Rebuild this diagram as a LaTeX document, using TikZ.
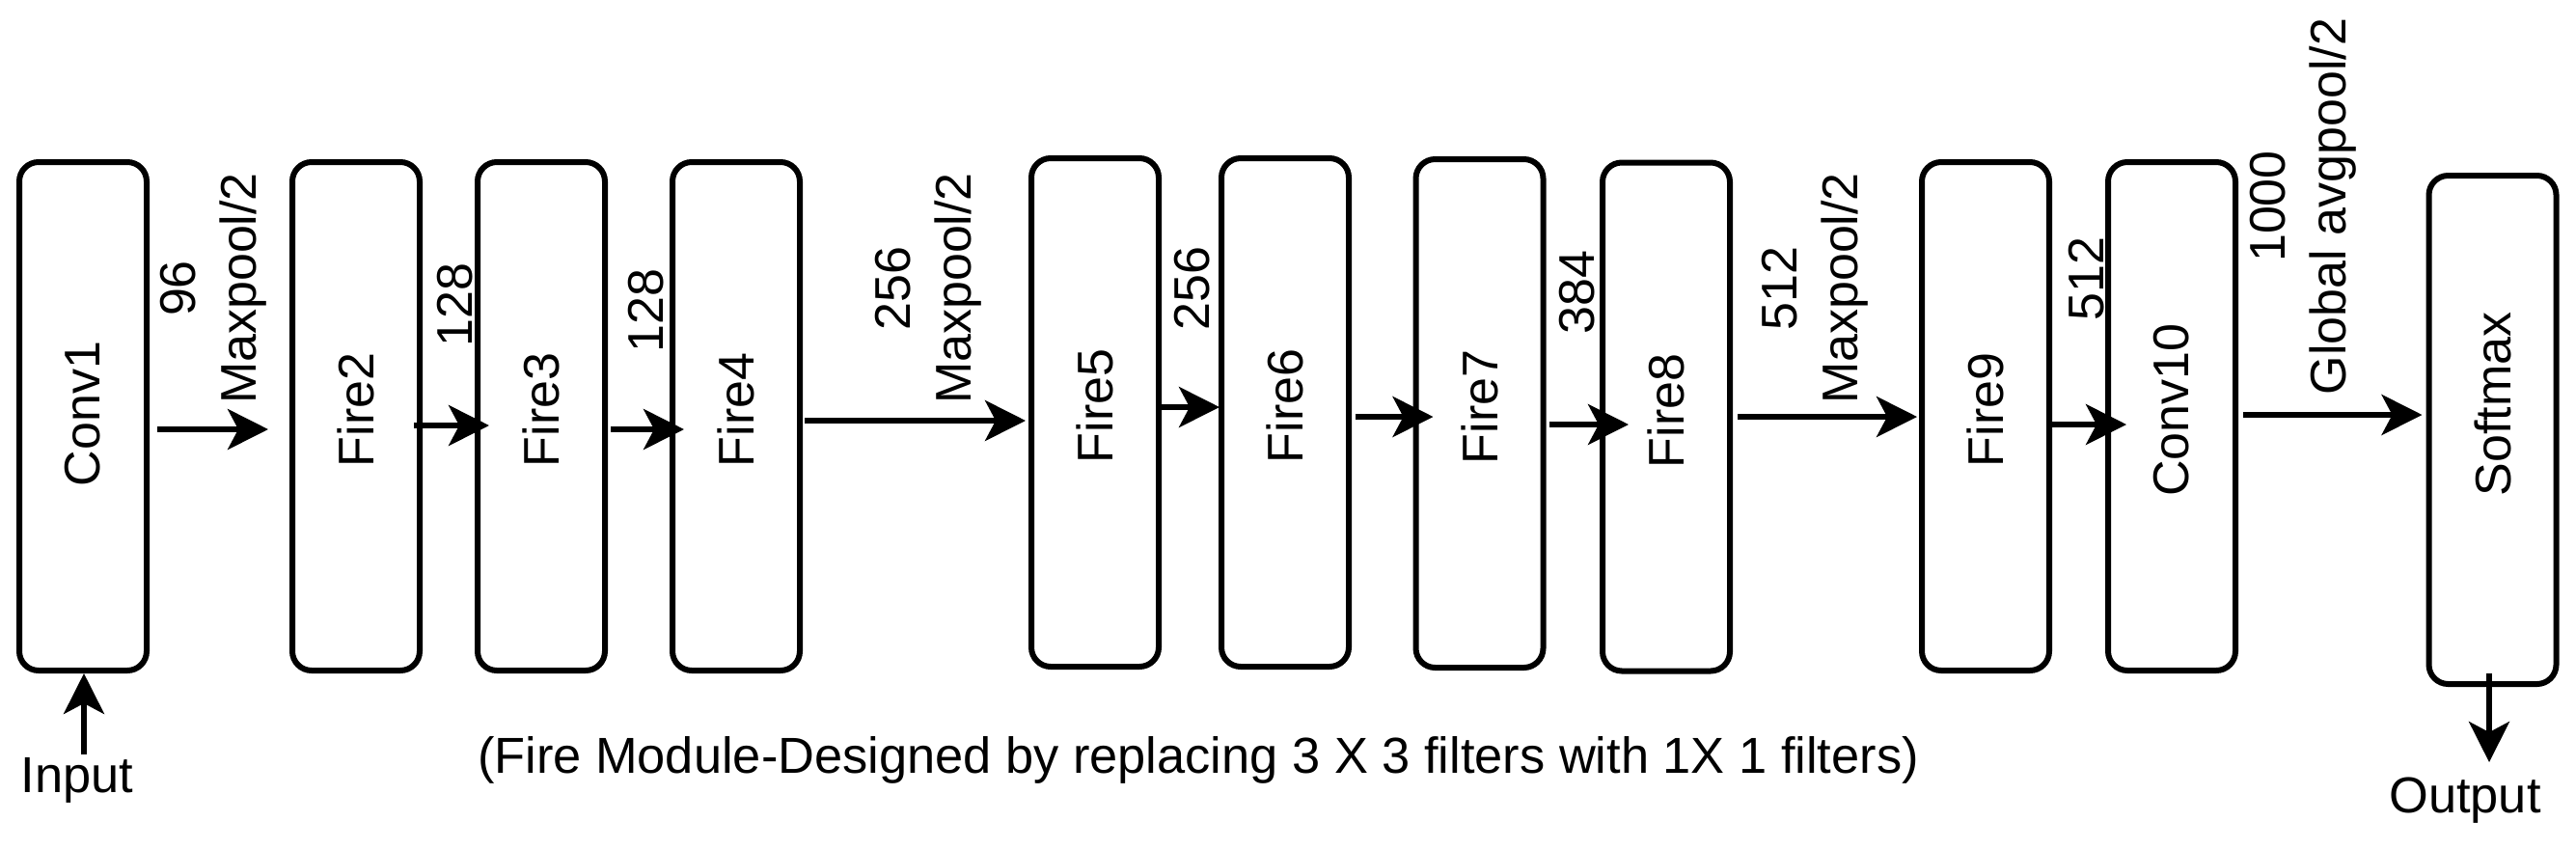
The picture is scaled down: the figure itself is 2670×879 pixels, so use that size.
\documentclass[tikz,border=0pt]{standalone}
\usepackage{fontspec}
\setmainfont{Liberation Sans}
\usetikzlibrary{arrows.meta,calc}
\begin{document}
\begin{tikzpicture}[x=0.5pt,y=-0.5pt,
  box/.style={draw, line width=3pt, rounded corners=10pt, minimum width=66pt, minimum height=263.5pt, inner sep=0pt},
  arr/.style={line width=2.8pt, -{Stealth[length=21pt,width=21pt,inset=5.5pt]}},
  lbl/.style={font=\fontsize{26}{31.5}\selectfont, inner sep=0pt, align=center, rotate=90},
  txt/.style={font=\fontsize{26.2}{31.5}\selectfont, inner sep=0pt}]
\useasboundingbox (0,0) rectangle (2670,879);
% boxes
\node[box] (conv1) at (86,431.5) {};
\node[box] (fire2) at (369,431.5) {};
\node[box] (fire3) at (561,431.5) {};
\node[box] (fire4) at (763,431.5) {};
\node[box] (fire5) at (1135,427.5) {};
\node[box] (fire6) at (1332,427.5) {};
\node[box] (fire7) at (1533.5,428.5) {};
\node[box] (fire8) at (1727,432) {};
\node[box] (fire9) at (2058,431.5) {};
\node[box] (conv10) at (2251,431.5) {};
\node[box] (softmax) at (2583.5,445.5) {};
% box texts
\node[lbl] (tconv1) at (86,429) {Conv1};
\node[lbl] (tfire2) at (369,425) {Fire2};
\node[lbl] (tfire3) at (561,425) {Fire3};
\node[lbl] (tfire4) at (763,425) {Fire4};
\node[lbl] (tfire5) at (1135,421) {Fire5};
\node[lbl] (tfire6) at (1332,421) {Fire6};
\node[lbl] (tfire7) at (1533.5,422) {Fire7};
\node[lbl] (tfire8) at (1727,426) {Fire8};
\node[lbl] (tfire9) at (2058,425) {Fire9};
\node[lbl] (tconv10) at (2251,425) {Conv10};
\node[lbl] (tsoftmax) at (2583.5,419) {Softmax};
% connector labels
\node[lbl] (l1) at (221,299) {96\\Maxpool/2};
\node[lbl] (l2) at (472,316) {128};
\node[lbl] (l3) at (670,322) {128};
\node[lbl] (l4) at (962,299) {256\\Maxpool/2};
\node[lbl] (l5) at (1236,299) {256};
\node[lbl] (l6) at (1635,303) {384};
\node[lbl] (l7) at (1881.5,299) {512\\Maxpool/2};
\node[lbl] (l8) at (2163,289) {512};
\node[lbl] (l9) at (2387,214) {1000\\Global avgpool/2};
% connectors
\draw[arr] ($(conv1.east|-0,445)+(8,0)$) -- ($(fire2.west|-0,445)+(-22,0)$);
\draw[arr] ($(fire2.east|-0,441)+(-9,0)$) -- ($(fire3.west|-0,441)+(15,0)$);
\draw[arr] ($(fire3.east|-0,445)+(3,0)$) -- ($(fire4.west|-0,445)+(15,0)$);
\draw[arr] ($(fire4.east|-0,436)+(2,0)$) -- ($(fire5.west|-0,436)+(-3,0)$);
\draw[arr] ($(fire5.east|-0,422)+(-5,0)$) -- ($(fire6.west|-0,422)+(1,0)$);
\draw[arr] ($(fire6.east|-0,432)+(4,0)$) -- ($(fire7.west|-0,432)+(21,0)$);
\draw[arr] ($(fire7.east|-0,440)+(3,0)$) -- ($(fire8.west|-0,440)+(30,0)$);
\draw[arr] ($(fire8.east|-0,432)+(5,0)$) -- ($(fire9.west|-0,432)+(-2,0)$);
\draw[arr] ($(fire9.east|-0,440)+(-5,0)$) -- ($(conv10.west|-0,440)+(22,0)$);
\draw[arr] ($(conv10.east|-0,430)+(5,0)$) -- ($(softmax.west|-0,430)+(-4,0)$);
% input / output
\node[txt] (input) at (80,809) {Input};
\node[txt] (output) at (2555,830) {Output};
\coordinate (inst) at (87,782);
\coordinate (outend) at (2580,790);
\draw[arr] (inst) -- (inst|-conv1.south);
\draw[arr] (outend|-softmax.south) ++(0,-14) -- (outend);
% caption
\node[txt] (cap) at (1242,788) {(Fire Module-Designed by replacing 3 X 3 filters with 1X 1 filters)};
\end{tikzpicture}
\end{document}
